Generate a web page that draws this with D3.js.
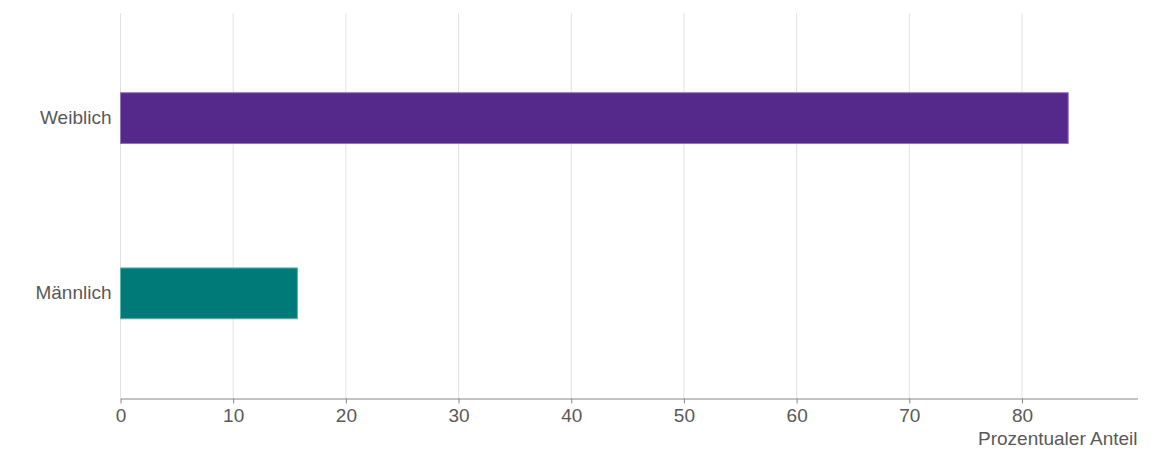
<!DOCTYPE html>
<html><head><meta charset="utf-8">
<script src="https://cdn.jsdelivr.net/npm/d3@7"></script>
<style>body{margin:0;background:#fff;font-family:"Liberation Sans",Arial,sans-serif;}</style>
</head><body><svg id="c" width="1152" height="460"></svg>
<script>
const categories = ["Weiblich", "Männlich"];
const values = [84.1, 15.7];
const colors = ["#55288c", "#007a78"];
const strokes = ["#8f73b8", "#5cb3ae"];
const xTicks = [0,10,20,30,40,50,60,70,80];
const xLabel = "Prozentualer Anteil";

const svg = d3.select("#c");
const m = {left:120.5, right:1137.5, top:13, bottom:398.5};
const x = d3.scaleLinear().domain([0, 90.25]).range([m.left, m.right]);
const y = d3.scaleBand().domain(categories).range([m.top, m.bottom]).paddingInner(0.71).paddingOuter(0.455);

svg.append("g").selectAll("line").data(xTicks).join("line")
  .attr("x1", d=>x(d)).attr("x2", d=>x(d)).attr("y1", m.top).attr("y2", m.bottom)
  .attr("stroke", "#e2e2e2").attr("stroke-width", 1);

svg.append("g").selectAll("rect").data(categories).join("rect")
  .attr("x", x(0)).attr("y", d=>y(d))
  .attr("width", (d,i)=>x(values[i])-x(0)).attr("height", y.bandwidth())
  .attr("fill", (d,i)=>colors[i]).attr("stroke", (d,i)=>strokes[i]).attr("stroke-width", 1);

const xa = svg.append("g").attr("transform", `translate(0,${m.bottom})`)
  .call(d3.axisBottom(x).tickValues(xTicks).tickSize(5).tickSizeOuter(0));
xa.select(".domain").attr("stroke", "#888");
xa.selectAll(".tick line").attr("stroke", "#888");
xa.selectAll("text").attr("fill", "#595959").attr("font-size", 19).attr("font-family", '"Liberation Sans",Arial,sans-serif').attr("dy", "0.8em");

const ya = svg.append("g").attr("transform", `translate(${m.left},0)`)
  .call(d3.axisLeft(y).tickSize(0).tickPadding(9));
ya.select(".domain").remove();
ya.selectAll("text").attr("fill", "#595959").attr("font-size", 19).attr("font-family", '"Liberation Sans",Arial,sans-serif');

svg.append("text").attr("x", m.right).attr("y", 445).attr("text-anchor", "end")
  .attr("fill", "#595959").attr("font-size", 19).text(xLabel);
</script></body></html>
